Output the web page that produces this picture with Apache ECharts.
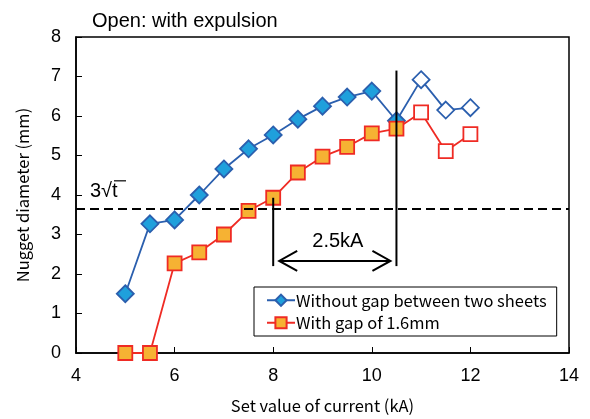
<!DOCTYPE html>
<html>
<head>
<meta charset="utf-8">
<script src="https://cdn.jsdelivr.net/npm/echarts@6/dist/echarts.min.js"></script>
<style>
  html, body { margin: 0; padding: 0; background: #fff; }
  #chart { width: 590px; height: 419px; }
</style>
</head>
<body>
<div id="chart"></div>
<script>
// Set value of current (kA)
const currents = [5, 5.5, 6, 6.5, 7, 7.5, 8, 8.5, 9, 9.5, 10, 10.5, 11, 11.5, 12];
// Nugget diameter (mm), sheets without gap
const noGapDiameter = [1.5, 3.27, 3.37, 4.0, 4.66, 5.17, 5.52, 5.92, 6.25, 6.48, 6.63, 5.88, 6.92, 6.15, 6.21];
// Nugget diameter (mm), gap of 1.6 mm
const gapDiameter = [0, 0, 2.27, 2.55, 3.0, 3.6, 3.93, 4.57, 4.97, 5.22, 5.56, 5.68, 6.09, 5.11, 5.54];
// Points measured with expulsion are drawn hollow
const expulsionFrom = 11;

// Minimum required nugget diameter 3√t
const minDiameter = 3.65;
// Current gap between the two series reaching 3√t
const gapStart = 8;
const gapEnd = 10.5;
const gapLabel = '2.5kA';
const gapArrowY = 2.33;
const gapLineTop = 7.15;
const gapLineBottom = 2.2;

const xTicks = { min: 4, max: 14, interval: 2 };
const yTicks = { min: 0, max: 8, interval: 1 };

const FONT = 'Liberation Sans, Arial, sans-serif';
const LEGEND_FONT = 'Noto Sans CJK JP, Liberation Sans, sans-serif';

function buildPoints(values) {
  return currents.map((x, i) => {
    const p = { value: [x, values[i]] };
    if (x >= expulsionFrom) p.itemStyle = { color: '#ffffff' };
    return p;
  });
}

const chart = echarts.init(document.getElementById('chart'), null, { renderer: 'canvas' });

const option = {
  animation: false,
  backgroundColor: '#ffffff',
  title: {
    text: 'Open: with expulsion',
    left: 87,
    top: 6,
    textStyle: { fontFamily: FONT, fontSize: 20, fontWeight: 'normal', color: '#000' }
  },
  grid: {
    left: 76, right: 21, top: 37, bottom: 66,
    show: true, borderColor: '#000', borderWidth: 1.5, backgroundColor: 'transparent'
  },
  legend: {
    orient: 'vertical',
    left: 254,
    top: 287,
    padding: [5, 10, 5, 12],
    itemGap: 6,
    itemWidth: 28,
    itemHeight: 14,
    borderColor: '#000',
    borderWidth: 1,
    backgroundColor: '#fff',
    textStyle: { fontFamily: LEGEND_FONT, fontSize: 16.5, color: '#000', padding: [0, 0, 0, -4] },
    data: ['Without gap between two sheets', 'With gap of 1.6mm']
  },
  xAxis: {
    type: 'value',
    min: xTicks.min, max: xTicks.max, interval: xTicks.interval,
    name: 'Set value of current (kA)',
    nameLocation: 'middle',
    nameGap: 44,
    nameTextStyle: { fontFamily: LEGEND_FONT, fontSize: 16.5, color: '#000' },
    axisLine: { show: true, lineStyle: { color: '#000', width: 1.5 } },
    axisTick: { show: true, inside: true, length: 6, lineStyle: { color: '#000' } },
    axisLabel: { fontFamily: FONT, fontSize: 18, color: '#000', margin: 14 },
    splitLine: { show: false }
  },
  yAxis: {
    type: 'value',
    min: yTicks.min, max: yTicks.max, interval: yTicks.interval,
    name: 'Nugget diameter (mm)',
    nameLocation: 'middle',
    nameGap: 45,
    nameTextStyle: { fontFamily: LEGEND_FONT, fontSize: 16.5, color: '#000' },
    axisLine: { show: true, lineStyle: { color: '#000', width: 1.5 } },
    axisTick: { show: true, inside: true, length: 6, lineStyle: { color: '#000' } },
    axisLabel: { fontFamily: FONT, fontSize: 18, color: '#000', margin: 15 },
    splitLine: { show: false }
  },
  series: [
    {
      name: 'Without gap between two sheets',
      type: 'line',
      z: 3,
      data: buildPoints(noGapDiameter),
      symbol: 'diamond',
      symbolSize: 17,
      lineStyle: { color: '#2b5fae', width: 1.8 },
      itemStyle: { color: '#1fa0dc', borderColor: '#2b5fae', borderWidth: 1.8 }
    },
    {
      name: 'With gap of 1.6mm',
      type: 'line',
      z: 4,
      data: buildPoints(gapDiameter),
      symbol: 'rect',
      symbolSize: 14,
      lineStyle: { color: '#ef2b24', width: 1.8 },
      itemStyle: { color: '#f6b233', borderColor: '#ef2b24', borderWidth: 1.8 },
      markLine: {
        silent: true,
        symbol: 'none',
        label: { show: false },
        lineStyle: { color: '#000', type: [9, 5], width: 2 },
        data: [{ yAxis: minDiameter }]
      }
    },
    {
      // annotations: 3√t label and the 2.5kA span between the two series
      type: 'custom',
      z: 5,
      silent: true,
      data: [[gapStart, gapEnd, gapArrowY]],
      renderItem: function (params, api) {
        const a = api.coord([gapStart, gapArrowY]);
        const b = api.coord([gapEnd, gapArrowY]);
        const l1 = api.coord([gapStart, gapDiameter[currents.indexOf(gapStart)]]);
        const l2 = api.coord([gapStart, gapLineBottom]);
        const r1 = api.coord([gapEnd, gapLineTop]);
        const r2 = api.coord([gapEnd, gapLineBottom]);
        const mid = api.coord([(gapStart + gapEnd) / 2, gapArrowY]);
        const th = api.coord([xTicks.min, minDiameter]);
        const ls = { stroke: '#000', lineWidth: 2, fill: null };
        return {
          type: 'group',
          children: [
            { type: 'line', shape: { x1: l1[0], y1: l1[1], x2: l2[0], y2: l2[1] }, style: ls },
            { type: 'line', shape: { x1: r1[0], y1: r1[1], x2: r2[0], y2: r2[1] }, style: ls },
            { type: 'line', shape: { x1: a[0] + 6, y1: a[1], x2: b[0] - 6, y2: b[1] }, style: ls },
            { type: 'polyline', shape: { points: [[a[0] + 24, a[1] - 10], [a[0] + 6, a[1]], [a[0] + 24, a[1] + 10]] }, style: ls },
            { type: 'polyline', shape: { points: [[b[0] - 24, b[1] - 10], [b[0] - 6, b[1]], [b[0] - 24, b[1] + 10]] }, style: ls },
            {
              type: 'text',
              x: mid[0] + 3, y: mid[1] - 19,
              style: { text: gapLabel, fontFamily: FONT, fontSize: 20, fill: '#000', align: 'center', verticalAlign: 'middle' }
            },
            {
              type: 'text',
              x: th[0] + 14, y: th[1] - 17,
              style: { text: '3√t', fontFamily: FONT, fontSize: 20, fill: '#000', align: 'left', verticalAlign: 'middle' }
            },
            { type: 'line', shape: { x1: th[0] + 38, y1: th[1] - 28, x2: th[0] + 50, y2: th[1] - 28 }, style: { stroke: '#000', lineWidth: 1.2 } }
          ]
        };
      }
    }
  ]
};

chart.setOption(option);
</script>
</body>
</html>
